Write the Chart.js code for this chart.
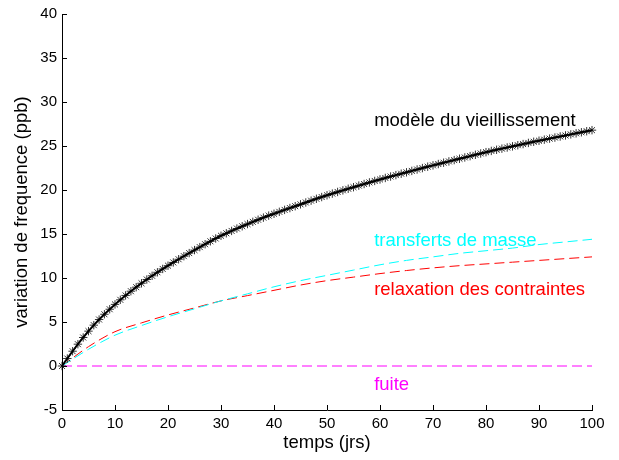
<!DOCTYPE html>
<html>
<head>
<meta charset="utf-8">
<script src="https://cdn.jsdelivr.net/npm/chart.js@4"></script>
<style>
  html, body { margin: 0; padding: 0; background: #fff; }
  #wrap { width: 619px; height: 460px; }
</style>
</head>
<body>
<div id="wrap"><canvas id="chart_vieil"></canvas></div>
<script>
// data
var days = Array.from({length: 101}, (_, i) => i)   // one marker per day
var modele = [
  0, 0.85, 1.68, 2.48, 3.24, 3.96, 4.64, 5.28, 5.88, 6.45,
  7.00, 7.52, 8.02, 8.50, 8.96, 9.40, 9.83, 10.25, 10.65, 11.03,
  11.40, 11.77, 12.13, 12.48, 12.83, 13.17, 13.51, 13.84, 14.17, 14.49,
  14.80, 15.08, 15.35, 15.62, 15.88, 16.13, 16.38, 16.62, 16.86, 17.09,
  17.30, 17.52, 17.74, 17.95, 18.16, 18.37, 18.58, 18.79, 19.00, 19.20,
  19.40, 19.59, 19.78, 19.96, 20.14, 20.32, 20.50, 20.68, 20.86, 21.03,
  21.20, 21.37, 21.53, 21.69, 21.85, 22.01, 22.17, 22.33, 22.49, 22.65,
  22.80, 22.95, 23.10, 23.25, 23.40, 23.55, 23.70, 23.85, 24.00, 24.15,
  24.30, 24.44, 24.57, 24.70, 24.83, 24.96, 25.09, 25.22, 25.35, 25.48,
  25.60, 25.72, 25.84, 25.96, 26.08, 26.20, 26.32, 26.44, 26.56, 26.68,
  26.80
]
var daysCoarse = [0, 5, 10, 15, 20, 25, 30, 35, 40, 45, 50, 55, 60, 65, 70, 75, 80, 85, 90, 95, 100]
var transferts = [0, 1.9, 3.5, 4.6, 5.6, 6.5, 7.4, 8.2, 9.0, 9.7, 10.3, 10.9, 11.5, 12.0, 12.4, 12.8, 13.1, 13.4, 13.8, 14.1, 14.4]
var relaxation = [0, 2.2, 3.9, 4.9, 5.8, 6.6, 7.4, 8.0, 8.6, 9.2, 9.7, 10.1, 10.5, 10.85, 11.15, 11.4, 11.6, 11.8, 12.0, 12.2, 12.4]
var fuiteX = [0, 100]
var fuite = [0, 0]
var xTicks = [0, 10, 20, 30, 40, 50, 60, 70, 80, 90, 100]
var yTicks = [-5, 0, 5, 10, 15, 20, 25, 30, 35, 40]

var font = "'Liberation Sans', Arial, sans-serif"

// text notes next to the curves (data coordinates, baseline)
var notes = [
  {text: 'modèle du vieillissement', x: 58.9, y: 27.27, color: '#000000'},
  {text: 'transferts de masse', x: 58.9, y: 13.64, color: '#00ffff'},
  {text: 'relaxation des contraintes', x: 58.9, y: 8.07, color: '#ff0000'},
  {text: 'fuite', x: 58.9, y: -2.73, color: '#ff00ff'}
]

function pts(xs, ys) {
  return xs.map((x, i) => ({x: x, y: ys[i]}))
}

// matlab style ticks pointing into the plot + curve labels
var matlabPlugin = {
  id: 'matlab',
  afterDraw(chart) {
    var c = chart.ctx
    var xs = chart.scales.x, ys = chart.scales.y
    var area = chart.chartArea
    c.save()
    c.strokeStyle = '#000'
    c.lineWidth = 1
    c.beginPath()
    xTicks.forEach(v => {
      var px = Math.round(xs.getPixelForValue(v)) + 0.5
      c.moveTo(px, area.bottom)
      c.lineTo(px, area.bottom - 5)
    })
    yTicks.forEach(v => {
      var py = Math.round(ys.getPixelForValue(v)) + 0.5
      c.moveTo(area.left, py)
      c.lineTo(area.left + 5, py)
    })
    c.stroke()
    c.font = '18.5px ' + font
    c.textAlign = 'left'
    c.textBaseline = 'alphabetic'
    notes.forEach(n => {
      c.fillStyle = n.color
      c.fillText(n.text, xs.getPixelForValue(n.x), ys.getPixelForValue(n.y))
    })
    c.restore()
  }
}

var ctx = document.getElementById('chart_vieil').getContext('2d')
var myChart = new Chart(ctx, {
  type: 'line',
  data: {
    datasets: [{
      label: 'fuite',
      data: pts(fuiteX, fuite),
      borderColor: '#ff00ff',
      borderWidth: 1,
      borderDash: [10, 5],
      pointRadius: 0,
      order: 4
    }, {
      label: 'relaxation des contraintes',
      data: pts(daysCoarse, relaxation),
      borderColor: '#ff0000',
      borderWidth: 1,
      borderDash: [10, 5],
      pointRadius: 0,
      cubicInterpolationMode: 'monotone',
      order: 3
    }, {
      label: 'transferts de masse',
      data: pts(daysCoarse, transferts),
      borderColor: '#00ffff',
      borderWidth: 1,
      borderDash: [10, 5],
      pointRadius: 0,
      cubicInterpolationMode: 'monotone',
      order: 2
    }, {
      label: 'modèle du vieillissement',
      data: pts(days, modele),
      borderColor: '#000000',
      borderWidth: 2,
      pointStyle: 'star',
      pointRadius: 4.2,
      pointBorderWidth: 1,
      pointBorderColor: 'rgba(0,0,0,0.8)',
      pointBackgroundColor: '#000',
      clip: false,
      order: 1
    }]
  },
  options: {
    responsive: true,
    maintainAspectRatio: false,
    animation: false,
    layout: {padding: {top: 14, right: 27, left: 0, bottom: 0}},
    plugins: {
      legend: {display: false},
      tooltip: {enabled: false}
    },
    scales: {
      x: {
        type: 'linear',
        min: 0,
        max: 100,
        afterFit: s => { s.height = 50 },
        afterBuildTicks: s => { s.ticks = xTicks.map(v => ({value: v})) },
        grid: {display: true, drawOnChartArea: false, drawTicks: false},
        border: {display: true, color: '#000', width: 1},
        ticks: {color: '#000', font: {family: font, size: 15}, padding: 5, maxRotation: 0},
        title: {display: true, text: 'temps (jrs)', color: '#000',
                font: {family: font, size: 18.5}, padding: {top: 0, bottom: 6}}
      },
      y: {
        type: 'linear',
        min: -5,
        max: 40,
        afterFit: s => { s.width = 62 },
        afterBuildTicks: s => { s.ticks = yTicks.map(v => ({value: v})) },
        grid: {display: true, drawOnChartArea: false, drawTicks: false},
        border: {display: true, color: '#000', width: 1},
        ticks: {color: '#000', font: {family: font, size: 15}, padding: 5},
        title: {display: true, text: 'variation de frequence (ppb)', color: '#000',
                font: {family: font, size: 18.5}, padding: {top: 11, bottom: 0}}
      }
    }
  },
  plugins: [matlabPlugin]
})
</script>
</body>
</html>
